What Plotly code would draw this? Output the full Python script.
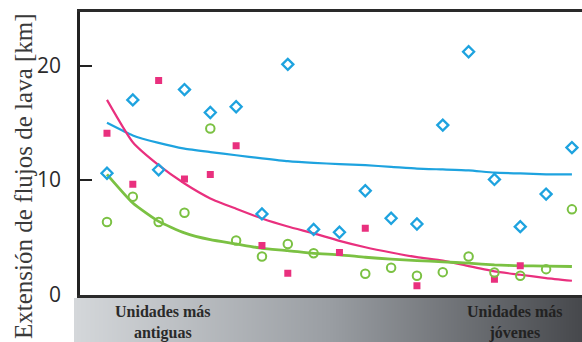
import plotly.graph_objects as go

# x positions: ordered units, oldest (0) to youngest (18)
units = list(range(19))

blue_pts = [10.6, 17.0, 10.9, 17.9, 15.9, 16.4, 7.05, 20.1, 5.7, 5.45,
            9.07, 6.67, 6.17, 14.8, 21.2, 10.06, 5.94, 8.78, 12.84]

pink_x = [0, 1, 2, 3, 4, 5, 6, 7, 9, 10, 12, 15, 16]
pink_pts = [14.1, 9.63, 18.7, 10.1, 10.5, 13.0, 4.3, 1.88, 3.68, 5.8, 0.78, 1.36, 2.52]

green_x = [0, 1, 2, 3, 4, 5, 6, 7, 8, 10, 11, 12, 13, 14, 15, 16, 17, 18]
green_pts = [6.35, 8.55, 6.35, 7.15, 14.5, 4.73, 3.33, 4.43, 3.62, 1.83,
             2.35, 1.65, 1.97, 3.33, 1.94, 1.65, 2.23, 7.45]

blue_fit = [15.0, 13.9, 13.25, 12.75, 12.45, 12.17, 11.9, 11.65, 11.5, 11.4,
            11.3, 11.16, 11.0, 10.93, 10.85, 10.65, 10.58, 10.5, 10.5]
pink_fit = [17.0, 13.3, 11.3, 9.7, 8.4, 7.5, 6.65, 5.95, 5.35, 4.7,
            4.14, 3.68, 3.28, 2.98, 2.5, 2.03, 1.74, 1.45, 1.22]
green_fit = [10.5, 8.0, 6.4, 5.4, 4.8, 4.43, 4.05, 3.85, 3.6, 3.48,
             3.27, 3.1, 2.98, 2.87, 2.75, 2.6, 2.52, 2.5, 2.46]

y_ticks = [0, 10, 20]
y_title = "Extensión de flujos de lava [km]"
label_old = "<b>Unidades más<br>antiguas</b>"
label_young = "<b>Unidades más<br>jóvenes</b>"

BLUE = "#1ea3df"
PINK = "#e9307e"
GREEN = "#7bc143"

fig = go.Figure()

# gradient band (second subplot)
fig.add_trace(go.Heatmap(
    x=[0, 1], y=[0, 1], z=[[0, 1], [0, 1]], zsmooth="best",
    colorscale=[[0, "#d4d7da"], [0.5, "#9a9ea3"], [1, "#46484c"]],
    showscale=False, hoverinfo="skip", xaxis="x2", yaxis="y2"))

for fit, col, w in [(blue_fit, BLUE, 2.2), (pink_fit, PINK, 2.2), (green_fit, GREEN, 2.8)]:
    fig.add_trace(go.Scatter(x=units, y=fit, mode="lines",
                             line=dict(color=col, width=w, shape="spline", smoothing=0.5),
                             showlegend=False, hoverinfo="skip"))

fig.add_trace(go.Scatter(x=units, y=blue_pts, mode="markers", showlegend=False,
                         marker=dict(symbol="diamond-open", size=8.5, color=BLUE,
                                     line=dict(width=2.3, color=BLUE))))
fig.add_trace(go.Scatter(x=pink_x, y=pink_pts, mode="markers", showlegend=False,
                         marker=dict(symbol="square", size=7, color=PINK,
                                     line=dict(width=0))))
fig.add_trace(go.Scatter(x=green_x, y=green_pts, mode="markers", showlegend=False,
                         marker=dict(symbol="circle-open", size=8.5, color=GREEN,
                                     line=dict(width=2, color=GREEN))))

fig.update_layout(
    width=582, height=342, autosize=False,
    margin=dict(l=74, r=0, t=12, b=0, pad=0, autoexpand=False),
    paper_bgcolor="white", plot_bgcolor="white",
    xaxis=dict(domain=[0.0118, 1], range=[-1.045, 18.39], showgrid=False,
               zeroline=False, showticklabels=False, ticks="", automargin=False,
               showline=True, linecolor="#2a2a2a", linewidth=2.5, mirror=True),
    yaxis=dict(domain=[0.1433, 1], range=[0, 24.67], showgrid=False, zeroline=False,
               tickvals=y_ticks, ticks="inside", ticklen=12, tickwidth=2, automargin=False,
               tickcolor="#222222", showline=True, linecolor="#222222", linewidth=2.5,
               tickfont=dict(family="Open Sans, Liberation Sans, sans-serif",
                             size=21, color="#2b2b2b"),
               ticklabelstandoff=12),
    xaxis2=dict(domain=[0, 1], range=[0, 1], visible=False, anchor="y2", automargin=False),
    yaxis2=dict(domain=[0, 0.1333], range=[0, 1], visible=False, anchor="x2", automargin=False),
    annotations=[
        dict(text=y_title, xref="paper", yref="paper", x=-0.1004, y=0.503,
             xanchor="center", yanchor="middle", textangle=-90, showarrow=False,
             font=dict(family="Liberation Serif, serif", size=25, color="#3a3a3a")),
        dict(text=label_old, xref="paper", yref="paper", x=0.175, y=0.059,
             xanchor="center", yanchor="middle", showarrow=False,
             font=dict(family="Liberation Serif, serif", size=16, color="#2a2a2a")),
        dict(text=label_young, xref="paper", yref="paper", x=0.868, y=0.059,
             xanchor="center", yanchor="middle", showarrow=False,
             font=dict(family="Liberation Serif, serif", size=16, color="#222222")),
    ],
)

fig.write_html("out.html")
